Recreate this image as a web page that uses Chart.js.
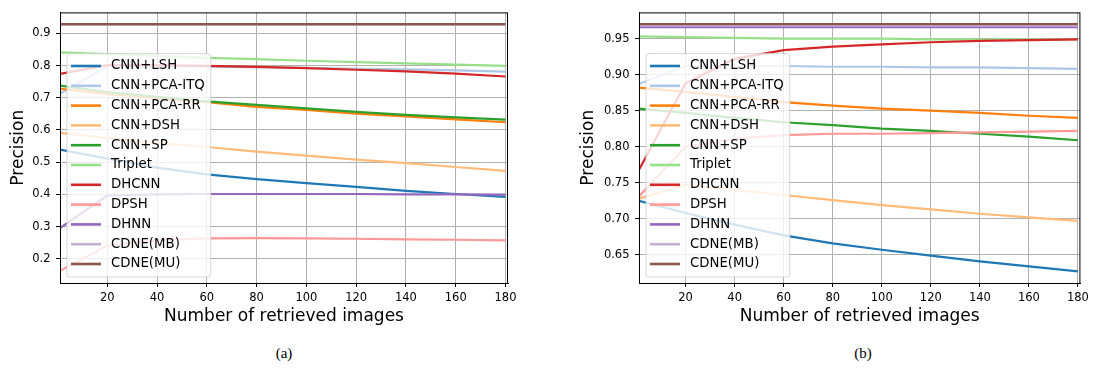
<!DOCTYPE html>
<html>
<head>
<meta charset="utf-8">
<script src="https://cdn.jsdelivr.net/npm/chart.js@4.4.1/dist/chart.umd.min.js"></script>
<style>
  body { margin: 0; background: #fff; width: 1093px; height: 376px; position: relative; overflow: hidden; }
  canvas { position: absolute; top: 0; }
  #chart-a { left: 0; }
  #chart-b { left: 546px; }
  .caption { position: absolute; top: 345px; width: 40px; text-align: center; font-family: 'Liberation Serif', serif; font-size: 15px; color: #000; }
</style>
</head>
<body>
<canvas id="chart-a" width="546" height="340"></canvas>
<canvas id="chart-b" width="547" height="340"></canvas>
<div class="caption" style="left:264px">(a)</div>
<div class="caption" style="left:843px">(b)</div>
<script>
// number of retrieved images (x)
const retrieved = [1, 20, 40, 60, 80, 100, 120, 140, 160, 180];
const methods = ['CNN+LSH', 'CNN+PCA-ITQ', 'CNN+PCA-RR', 'CNN+DSH', 'CNN+SP', 'Triplet',
  'DHCNN', 'DPSH', 'DHNN', 'CDNE(MB)', 'CDNE(MU)'];
const colors = ['#1f77b4', '#aec7e8', '#ff7f0e', '#ffbb78', '#2ca02c', '#98df8a',
  '#d62728', '#ff9896', '#9467bd', '#c5b0d5', '#8c564b'];

// (a)
const lshA = [0.539, 0.511, 0.483, 0.462, 0.447, 0.435, 0.423, 0.411, 0.401, 0.392];
const itqA = [0.713, 0.797, 0.797, 0.796, 0.795, 0.793, 0.790, 0.788, 0.785, 0.781];
const rrA = [0.728, 0.712, 0.698, 0.686, 0.672, 0.662, 0.651, 0.642, 0.633, 0.624];
const dshA = [0.591, 0.575, 0.560, 0.547, 0.533, 0.520, 0.508, 0.497, 0.485, 0.473];
const spA = [0.738, 0.718, 0.703, 0.689, 0.678, 0.667, 0.656, 0.647, 0.639, 0.632];
const tripletA = [0.841, 0.836, 0.830, 0.824, 0.820, 0.815, 0.811, 0.807, 0.803, 0.799];
const dhcnnA = [0.774, 0.801, 0.801, 0.799, 0.796, 0.792, 0.787, 0.782, 0.775, 0.766];
const dpshA = [0.163, 0.240, 0.258, 0.263, 0.264, 0.263, 0.262, 0.260, 0.259, 0.257];
const dhnnA = [0.295, 0.396, 0.400, 0.401, 0.401, 0.401, 0.401, 0.400, 0.400, 0.399];
const mbA = [0.926, 0.926, 0.926, 0.926, 0.926, 0.926, 0.926, 0.926, 0.926, 0.926];
const muA = [0.929, 0.929, 0.929, 0.929, 0.929, 0.929, 0.929, 0.929, 0.929, 0.929];

// (b)
const lshB = [0.725, 0.708, 0.692, 0.677, 0.666, 0.657, 0.649, 0.641, 0.634, 0.627];
const itqB = [0.887, 0.912, 0.912, 0.912, 0.911, 0.911, 0.910, 0.910, 0.909, 0.908];
const rrB = [0.882, 0.876, 0.869, 0.862, 0.857, 0.853, 0.850, 0.847, 0.843, 0.840];
const dshB = [0.728, 0.747, 0.740, 0.733, 0.726, 0.719, 0.713, 0.707, 0.702, 0.697];
const spB = [0.853, 0.847, 0.840, 0.834, 0.830, 0.825, 0.822, 0.818, 0.814, 0.809];
const tripletB = [0.953, 0.952, 0.951, 0.950, 0.950, 0.950, 0.949, 0.949, 0.949, 0.949];
const dhcnnB = [0.768, 0.888, 0.922, 0.934, 0.939, 0.942, 0.945, 0.947, 0.948, 0.949];
const dpshB = [0.731, 0.800, 0.811, 0.816, 0.818, 0.818, 0.819, 0.820, 0.821, 0.822];
const dhnnB = [0.966, 0.966, 0.966, 0.966, 0.966, 0.966, 0.966, 0.966, 0.966, 0.966];
const mbB = [0.968, 0.968, 0.968, 0.968, 0.968, 0.968, 0.968, 0.968, 0.968, 0.968];
const muB = [0.970, 0.970, 0.970, 0.970, 0.970, 0.970, 0.970, 0.970, 0.970, 0.970];

const xTicks = [20, 40, 60, 80, 100, 120, 140, 160, 180];
const yTicksA = [0.2, 0.3, 0.4, 0.5, 0.6, 0.7, 0.8, 0.9];
const yTicksB = [0.65, 0.70, 0.75, 0.80, 0.85, 0.90, 0.95];

const FONT = '"DejaVu Sans", sans-serif';
Chart.defaults.font.family = FONT;
Chart.defaults.color = '#000';

// matplotlib-like frame + legend box inside the axes
const frameLegend = {
  id: 'frameLegend',
  afterDatasetsDraw(chart) {
    const { ctx, chartArea: a } = chart;
    const sets = chart.data.datasets;
    ctx.save();
    ctx.strokeStyle = '#000';
    ctx.lineWidth = 1;
    ctx.strokeRect(a.left + 0.5, a.top + 0.5, a.right - a.left - 1, a.bottom - a.top);

    ctx.font = '13.3px ' + FONT;
    const textW = Math.max(...sets.map(d => ctx.measureText(d.label).width));
    const rowH = 19.8;
    const w = 44 + textW + 6;
    const h = 12.4 + (sets.length - 1) * rowH + 13;
    const left = a.left + 7;
    const top = a.bottom - 6 - h;
    ctx.beginPath();
    if (ctx.roundRect) ctx.roundRect(left, top, w, h, 3); else ctx.rect(left, top, w, h);
    ctx.fillStyle = 'rgba(255,255,255,0.8)';
    ctx.fill();
    ctx.strokeStyle = 'rgba(204,204,204,0.8)';
    ctx.stroke();

    ctx.textBaseline = 'middle';
    sets.forEach((d, i) => {
      const y = top + 12.4 + i * rowH;
      ctx.beginPath();
      ctx.moveTo(left + 4, y);
      ctx.lineTo(left + 34, y);
      ctx.strokeStyle = d.borderColor;
      ctx.lineWidth = 2.6;
      ctx.stroke();
      ctx.fillStyle = '#000';
      ctx.fillText(d.label, left + 44, y);
    });
    ctx.restore();
  }
};

function makeChart(id, series, yMin, yMax, yTicks, digits, pad, yWidth) {
  const datasets = series.map((vals, i) => ({
    label: methods[i],
    data: retrieved.map((x, j) => ({ x: x, y: vals[j] })),
    borderColor: colors[i],
    backgroundColor: colors[i],
    borderWidth: 2.2,
    pointRadius: 0,
    tension: 0,
    order: -i
  }));
  return new Chart(document.getElementById(id), {
    type: 'line',
    data: { datasets: datasets },
    plugins: [frameLegend],
    options: {
      responsive: false,
      animation: false,
      events: [],
      layout: { padding: pad },
      plugins: { legend: { display: false }, tooltip: { enabled: false } },
      scales: {
        x: {
          type: 'linear',
          min: 1,
          max: 181,
          afterBuildTicks: s => { s.ticks = xTicks.map(v => ({ value: v })); },
          afterFit: s => { s.height = 45; },
          ticks: { font: { size: 11.5 }, padding: 4, maxRotation: 0, callback: v => String(v) },
          grid: { color: '#b0b0b0', lineWidth: 1, tickColor: '#000', tickLength: 4 },
          border: { color: '#000', width: 1 },
          title: { display: true, text: 'Number of retrieved images', font: { size: 17 }, padding: { top: 0, bottom: 1 } }
        },
        y: {
          min: yMin,
          max: yMax,
          afterBuildTicks: s => { s.ticks = yTicks.map(v => ({ value: v })); },
          afterFit: s => { s.width = yWidth; },
          ticks: { font: { size: 11.5 }, padding: 5.5, callback: v => Number(v).toFixed(digits) },
          grid: { color: '#b0b0b0', lineWidth: 1, tickColor: '#000', tickLength: 4 },
          border: { color: '#000', width: 1 },
          title: { display: true, text: 'Precision', font: { size: 17 }, padding: { top: 8, bottom: 0 } }
        }
      }
    }
  });
}

makeChart('chart-a',
  [lshA, itqA, rrA, dshA, spA, tripletA, dhcnnA, dpshA, dhnnA, mbA, muA],
  0.1246, 0.9652, yTicksA, 1, { left: 0, right: 38, top: 5, bottom: 12 }, 60);

makeChart('chart-b',
  [lshB, itqB, rrB, dshB, spB, tripletB, dhcnnB, dpshB, dhnnB, mbB, muB],
  0.6109, 0.9864, yTicksB, 2, { left: 24, right: 12, top: 5, bottom: 12 }, 69);
</script>
</body>
</html>
